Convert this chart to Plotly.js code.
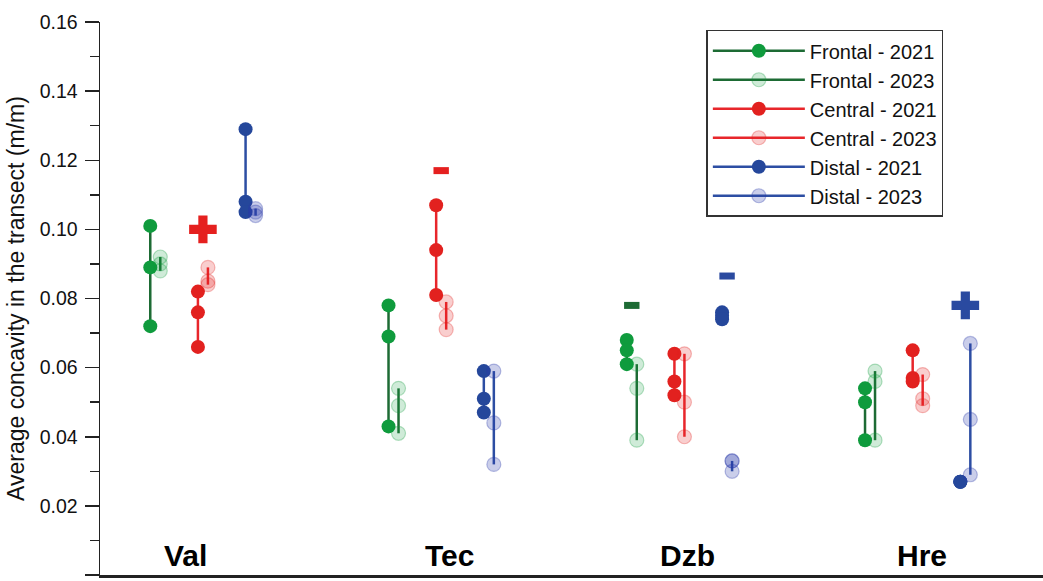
<!DOCTYPE html>
<html>
<head>
<meta charset="utf-8">
<script src="https://cdn.plot.ly/plotly-3.0.1.min.js"></script>
<style>html,body{margin:0;padding:0;background:#fff;}#chart{width:1043px;height:581px;}</style>
</head>
<body>
<div id="chart"></div>
<script>
// ---- data ----
const sites = ['Val', 'Tec', 'Dzb', 'Hre'];
const seriesNames = ['Frontal - 2021', 'Frontal - 2023', 'Central - 2021', 'Central - 2023', 'Distal - 2021', 'Distal - 2023'];
const frontal2021 = [[0.101, 0.089, 0.072], [0.078, 0.069, 0.043], [0.068, 0.065, 0.061], [0.054, 0.050, 0.039]];
const frontal2023 = [[0.092, 0.090, 0.088], [0.054, 0.049, 0.041], [0.061, 0.054, 0.039], [0.059, 0.056, 0.039]];
const central2021 = [[0.082, 0.076, 0.066], [0.107, 0.094, 0.081], [0.064, 0.056, 0.052], [0.065, 0.057, 0.056]];
const central2023 = [[0.089, 0.085, 0.084], [0.079, 0.075, 0.071], [0.064, 0.050, 0.040], [0.058, 0.051, 0.049]];
const distal2021  = [[0.129, 0.108, 0.105], [0.059, 0.051, 0.047], [0.076, 0.075, 0.074], [0.027, 0.027, 0.027]];
const distal2023  = [[0.106, 0.105, 0.104], [0.059, 0.044, 0.032], [0.033, 0.033, 0.030], [0.067, 0.045, 0.029]];
// change signs: site index, transect position, value, sign
const signSite  = [0, 1, 2, 2, 3];
const signPos   = ['Central', 'Central', 'Frontal', 'Distal', 'Distal'];
const signValue = [0.100, 0.117, 0.078, 0.0865, 0.078];
const signText  = ['+', '-', '-', '-', '+'];
const yTickVals = [0, 0.02, 0.04, 0.06, 0.08, 0.10, 0.12, 0.14, 0.16];
const yTickText = ['0', '0.02', '0.04', '0.06', '0.08', '0.10', '0.12', '0.14', '0.16'];
const yMinorVals = [0.01, 0.03, 0.05, 0.07, 0.09, 0.11, 0.13, 0.15];

// ---- styling ----
const posOffset = {Frontal: -0.2, Central: 0.0, Distal: 0.2};
const yearOffset = {'2021': -0.021, '2023': 0.021};
const style = {
  Frontal: {line: '#1d6b34', m21: '#0f9b3d', m23: 'rgba(15,155,61,0.20)', e23: 'rgba(15,155,61,0.30)', sign: '#1d6b34'},
  Central: {line: '#e8262b', m21: '#e2211f', m23: 'rgba(226,33,31,0.22)', e23: 'rgba(226,33,31,0.30)', sign: '#e5201f'},
  Distal:  {line: '#2d4ea3', m21: '#25479b', m23: 'rgba(45,60,170,0.25)', e23: 'rgba(45,60,170,0.32)', sign: '#2a4aa0'}
};
const allSeries = [frontal2021, frontal2023, central2021, central2023, distal2021, distal2023];
const FONT = 'Arial, Liberation Sans, sans-serif';

const traces = allSeries.map((vals, k) => {
  const name = seriesNames[k];
  const pos = name.split(' - ')[0];
  const year = name.split(' - ')[1];
  const st = style[pos];
  const x = [], y = [];
  vals.forEach((g, i) => {
    g.forEach(v => { x.push(i + posOffset[pos] + yearOffset[year]); y.push(v); });
    x.push(null); y.push(null);
  });
  const is21 = year === '2021';
  return {
    type: 'scatter', mode: 'lines+markers', name: name, x: x, y: y,
    connectgaps: false,
    line: {color: st.line, width: 2.5},
    marker: {
      size: 14, symbol: 'circle',
      color: is21 ? st.m21 : st.m23,
      line: {width: is21 ? 0 : 1.2, color: is21 ? st.m21 : st.e23}
    }
  };
});

// sign markers
const sx = [], sy = [], ssym = [], scol = [], ssize = [];
signSite.forEach((s, j) => {
  sx.push(s + posOffset[signPos[j]]);
  sy.push(signValue[j]);
  const plus = signText[j] === '+';
  ssym.push(plus ? 'cross' : 'line-ew-open');
  ssize.push(plus ? 23 : 11);
  scol.push(style[signPos[j]].sign);
});
traces.push({
  type: 'scatter', mode: 'markers', x: sx, y: sy, showlegend: false, hoverinfo: 'skip',
  marker: {symbol: ssym, size: ssize, color: scol, opacity: 1,
           line: {color: scol, width: ssym.map(s => s === 'cross' ? 0 : 7)}}
});

const labelShift = [-0.074, 0.037, 0.032, 0.017];
const annotations = sites.map((s, i) => ({
  x: i + labelShift[i], y: 0.0055, xref: 'x', yref: 'y', text: '<b>' + s + '</b>',
  showarrow: false, xanchor: 'center', yanchor: 'middle',
  font: {family: FONT, size: 30, color: '#000'}
}));

const layout = {
  width: 1043, height: 581,
  margin: {l: 100, r: 0, t: 22, b: 6},
  paper_bgcolor: '#fff', plot_bgcolor: '#fff',
  font: {family: FONT, size: 19, color: '#111'},
  showlegend: true,
  legend: {
    x: 0.643, y: 0.986, xanchor: 'left', yanchor: 'top',
    bordercolor: '#333', borderwidth: 1.5, bgcolor: '#fff',
    font: {family: FONT, size: 20, color: '#111'},
    itemwidth: 92, tracegroupgap: 0
  },
  xaxis: {
    range: [-0.432, 3.526], showgrid: false, zeroline: false,
    showticklabels: false, ticks: '', showline: true, linecolor: '#222', linewidth: 2.5
  },
  yaxis: {
    range: [0, 0.16], showgrid: false, zeroline: false,
    showline: true, linecolor: '#222', linewidth: 1.5,
    tickmode: 'array', tickvals: yTickVals, ticktext: yTickText,
    ticks: 'outside', ticklen: 14, tickwidth: 1.5, tickcolor: '#222',
    ticklabelstandoff: 3,
    tickfont: {family: FONT, size: 19.5, color: '#111'},
    minor: {tickmode: 'array', tickvals: yMinorVals, ticks: 'outside', ticklen: 9, tickwidth: 1.5, tickcolor: '#222'},
    title: {text: 'Average concavity in the transect (m/m)', font: {family: FONT, size: 23, color: '#111'}, standoff: 8}
  },
  annotations: annotations
};

Plotly.newPlot('chart', traces, layout, {displayModeBar: false, staticPlot: true});
</script>
</body>
</html>
